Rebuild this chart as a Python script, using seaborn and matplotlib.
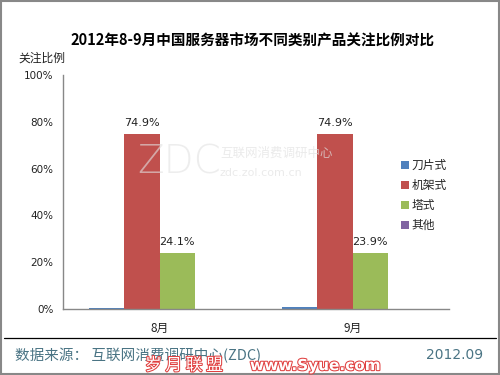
import pandas as pd
import matplotlib
matplotlib.use('Agg')
import matplotlib.pyplot as plt
import matplotlib.patheffects as pe
import seaborn as sns

# 数据
months = ['8月', '9月']
types = ['刀片式', '机架式', '塔式', '其他']
blade = [0.4, 0.9]
rack = [74.9, 74.9]
tower = [24.1, 23.9]
other = [0.0, 0.0]
colors = ['#4F81BD', '#C0504D', '#9BBB59', '#8064A2']

sns.set_theme(style='white')
plt.rcParams['font.family'] = ['Noto Sans CJK SC', 'DejaVu Sans']
plt.rcParams['axes.unicode_minus'] = False

df = pd.DataFrame({
    '月份': months * 4,
    '类别': [t for t in types for _ in months],
    '比例': blade + rack + tower + other,
})

fig = plt.figure(figsize=(5, 3.75), dpi=100)
ax = fig.add_axes([0.126, 0.176, 0.772, 0.624])
sns.barplot(data=df, x='月份', y='比例', hue='类别', hue_order=types,
            palette=colors, width=0.73, saturation=1, ax=ax, legend=True,
            linewidth=0, edgecolor='none')

ax.set_xlim(-0.5, 1.5)
ax.set_ylim(0, 100)
ax.set_yticks(range(0, 101, 20))
ax.set_yticklabels([f'{v}%' for v in range(0, 101, 20)], family='DejaVu Sans',
                   fontsize=7.5, color='#222222')
ax.set_xticks([0, 1])
ax.set_xticklabels(months, fontsize=8.5, color='#222222')
ax.tick_params(axis='x', length=0, pad=9)
ax.tick_params(axis='y', direction='in', length=3, color='#888888', pad=7)
ax.set_xticks([-0.5, 0.5, 1.5], minor=True)
ax.tick_params(axis='x', which='minor', direction='in', length=3, color='#888888')
ax.set_xlabel('')
ax.set_ylabel('')
for s in ['top', 'right']:
    ax.spines[s].set_visible(False)
for s in ['left', 'bottom']:
    ax.spines[s].set_color('#888888')
    ax.spines[s].set_linewidth(1)

# 数值标签（机架式、塔式）
for cont in ax.containers[1:3]:
    for bar in cont:
        h = bar.get_height()
        ax.text(bar.get_x() + bar.get_width() / 2, h + 2.5, f'{h:.1f}%',
                ha='center', va='bottom', fontsize=8, family='DejaVu Sans', color='#222222')

leg = ax.legend(loc='center left', bbox_to_anchor=(0.847, 0.485), frameon=False,
                fontsize=8.5, handlelength=0.7, handleheight=0.7, handletextpad=0.25,
                labelspacing=0.6)

# 标题与轴名
fig.text(0.505, 0.893, '2012年8-9月中国服务器市场不同类别产品关注比例对比',
         ha='center', va='center', fontsize=10.5, fontweight='bold', color='black')
fig.text(0.036, 0.845, '关注比例', ha='left', va='center', fontsize=8.5, color='#222222')

# 水印
fig.text(0.275, 0.568, 'ZDC', fontsize=28, family='DejaVu Sans', color='#e2e2e2',
         alpha=0.6, ha='left', va='center', fontweight='light')
fig.text(0.44, 0.592, '互联网消费调研中心', fontsize=9, color='#e2e2e2', alpha=0.7,
         ha='left', va='center')
fig.text(0.44, 0.538, 'zdc.zol.com.cn', fontsize=8, family='DejaVu Sans',
         color='#e2e2e2', alpha=0.7, ha='left', va='center')

# 底部
fig.add_artist(plt.Line2D([0.008, 0.992], [0.099, 0.099], color='black', lw=0.9))
fig.text(0.03, 0.053, '数据来源： 互联网消费调研中心(ZDC)', fontsize=10.5,
         color='#4a7484', ha='left', va='center')
fig.text(0.966, 0.053, '2012.09', fontsize=10, family='DejaVu Sans',
         color='#4a7484', ha='right', va='center')
fig.text(0.29, 0.025, '岁 月 联 盟', fontsize=12, color='white',
         ha='left', va='center',
         path_effects=[pe.withStroke(linewidth=1.5, foreground='#e04040')])
fig.text(0.5, 0.025, 'www.Syue.com', fontsize=11, fontweight='bold', color='white',
         family='DejaVu Sans', ha='left', va='center',
         path_effects=[pe.withStroke(linewidth=1.5, foreground='#e04040')])

# 外框
fig.add_artist(plt.Rectangle((0.002, 0.003), 0.996, 0.994, fill=False,
                             edgecolor='#888888', lw=1.5, transform=fig.transFigure))

fig.savefig('out.png', dpi=100)
